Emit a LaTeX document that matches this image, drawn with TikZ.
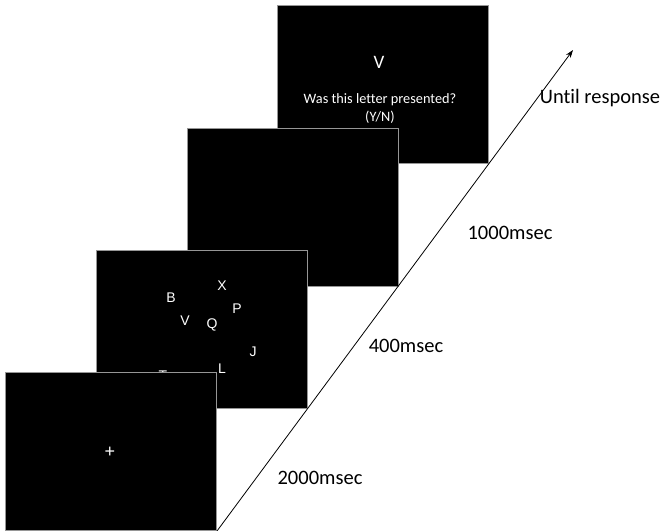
\documentclass[tikz,border=0pt]{standalone}
\usepackage{fontspec}
\setmainfont{Carlito}[Ligatures=NoCommon]
\newfontfamily\arialf{Liberation Sans}
\usetikzlibrary{arrows.meta}
\begin{document}
\begin{tikzpicture}[x=1pt,y=-1pt,
  screen/.style={draw={rgb,255:red,150;green,150;blue,150}, line width=0.9pt, fill=black, anchor=north west,
    minimum width=211pt, minimum height=158pt, inner sep=0pt, outer sep=0pt},
  lett/.style={text=white, font=\arialf\fontsize{14}{14}\selectfont, inner sep=0pt},
  qtext/.style={text=white, font=\fontsize{14.3}{16}\selectfont, inner sep=0pt},
  lab/.style={font=\fontsize{20.5}{22}\selectfont, inner sep=0pt}]
\useasboundingbox (0,0) rectangle (663,530);
% screens, back to front
\node[screen] (s4) at (277,5) {};
\node[qtext, font=\fontsize{19}{19}\selectfont] (v) at (379,62) {V};
\node[qtext] (q) at (380,100) {Was this letter presented?};
\node[qtext] (yn) at (380,117) {(Y/N)};
\node[screen] (s3) at (187,128) {};
\node[screen] (s2) at (96,250) {};
\node[lett] (lB) at (171,298) {B};
\node[lett] (lX) at (222,286) {X};
\node[lett] (lP) at (237,309) {P};
\node[lett] (lV) at (185,321) {V};
\node[lett] (lQ) at (212,325) {Q};
\node[lett] (lJ) at (253,352) {J};
\node[lett] (lL) at (222,369) {L};
\node[lett, anchor=north] (lT) at (163,370.5) {T};
\node[screen] (s1) at (5,372) {};
\node[lett, font=\arialf\fontsize{18}{18}\selectfont] (fix) at (110,452) {+};
% time arrow
\coordinate (a0) at (217,531);
\coordinate (a1) at (573,50);
\draw[line width=0.8pt, -{Stealth[length=8pt,width=5.5pt]}] (a0) -- (a1);
% labels
\node[lab] (t1) at (320,478) {2000msec};
\node[lab] (t2) at (406,346) {400msec};
\node[lab] (t3) at (510,233) {1000msec};
\node[lab] (t4) at (600,98) {Until response};
\end{tikzpicture}
\end{document}
